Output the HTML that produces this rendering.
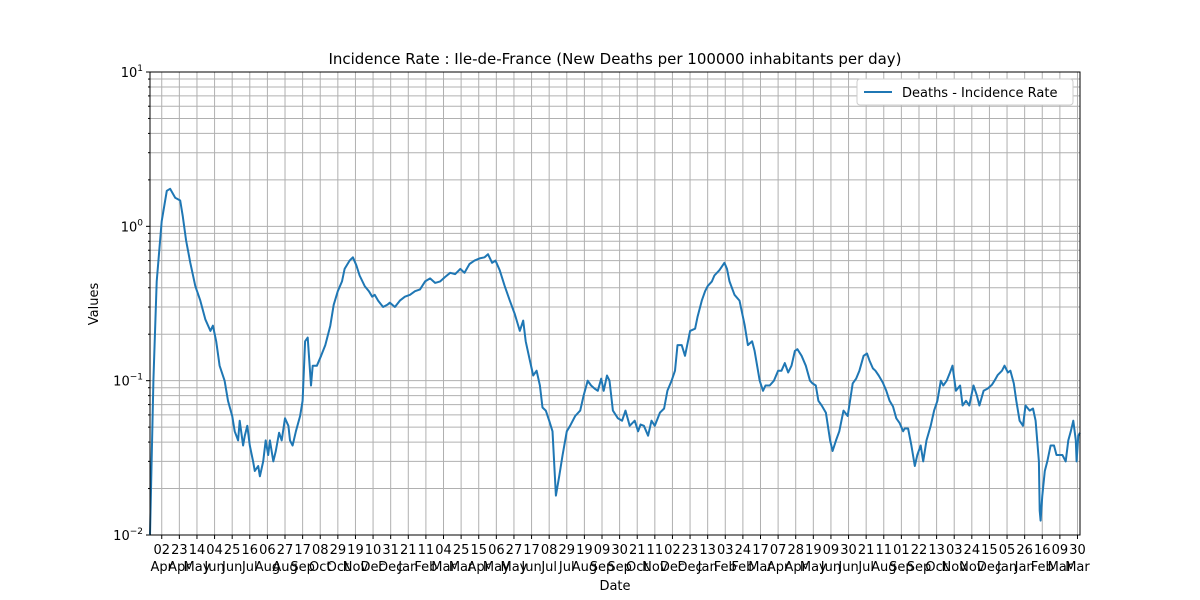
<!DOCTYPE html>
<html><head><meta charset="utf-8"><style>
body{margin:0;background:#fff;font-family:"Liberation Sans","DejaVu Sans",sans-serif}
svg{display:block}
</style></head><body>
<svg id="chart" width="1200" height="600" viewBox="0 0 1200 600" xmlns="http://www.w3.org/2000/svg" font-family="DejaVu Sans, Liberation Sans, sans-serif">
<rect width="1200" height="600" fill="#fff"/>
<text x="615" y="64" text-anchor="middle" font-size="15">Incidence Rate : Ile-de-France  (New Deaths per 100000 inhabitants per day)</text>
<g id="grid"></g>
<g id="ticks"></g>
<path id="line" fill="none" stroke="#1f77b4" stroke-width="2" stroke-linejoin="round"/>
<rect x="150" y="72" width="930" height="463" fill="none" stroke="#000" stroke-width="1"/>
<text x="615" y="590" text-anchor="middle" font-size="13">Date</text>
<text transform="translate(98,304) rotate(-90)" text-anchor="middle" font-size="13">Values</text>
<g>
<rect x="857" y="79" width="216" height="26" fill="#fff" stroke="#ccc" rx="3"/>
<line x1="864" y1="92" x2="892" y2="92" stroke="#1f77b4" stroke-width="2"/>
<text x="902" y="97" font-size="13">Deaths - Incidence Rate</text>
</g>
</svg>
<script>
const days=[0,4,8,14,20,24,30,36,39,43,48,54,60,66,72,75,79,83,89,93,98,101,105,107,111,113,116,119,123,125,129,131,135,138,141,143,147,150,154,157,161,165,167,170,174,179,182,185,188,192,194,199,204,209,215,219,224,229,232,238,242,246,250,256,261,265,268,272,278,283,286,292,298,304,310,316,322,328,334,340,346,352,358,364,370,375,381,387,393,399,403,408,412,417,423,429,435,441,445,448,453,457,461,465,468,472,476,480,484,488,492,497,501,507,513,517,522,526,530,534,538,541,545,548,552,558,563,567,572,578,582,585,589,594,598,602,608,613,617,622,626,629,634,638,644,650,653,658,662,665,670,673,679,685,688,691,697,703,709,713,718,721,727,731,734,739,744,749,753,757,761,765,769,772,777,782,787,790,794,797,801,806,811,814,818,822,827,832,838,842,846,851,855,858,862,865,869,874,878,882,886,890,894,898,900,904,908,912,915,919,922,926,931,935,939,943,946,950,954,957,961,966,969,973,977,982,986,989,994,999,1004,1007,1011,1016,1019,1023,1026,1030,1033,1037,1041,1044,1049,1053,1056,1060,1061,1062,1064,1067,1070,1074,1078,1081,1085,1088,1092,1095,1098,1101,1104,1105,1107,1109];
const values=[0.01,0.1,0.44,1.08,1.70,1.75,1.53,1.47,1.17,0.81,0.58,0.41,0.33,0.25,0.21,0.227,0.18,0.125,0.1,0.074,0.059,0.047,0.041,0.055,0.038,0.044,0.051,0.038,0.030,0.026,0.028,0.024,0.030,0.041,0.033,0.041,0.030,0.035,0.046,0.041,0.057,0.051,0.041,0.038,0.047,0.059,0.074,0.18,0.19,0.093,0.125,0.125,0.145,0.17,0.227,0.31,0.38,0.44,0.53,0.60,0.63,0.56,0.48,0.41,0.38,0.35,0.36,0.33,0.30,0.31,0.32,0.30,0.33,0.35,0.36,0.38,0.39,0.44,0.46,0.43,0.44,0.47,0.50,0.49,0.53,0.50,0.57,0.60,0.62,0.63,0.66,0.58,0.60,0.52,0.41,0.33,0.27,0.21,0.245,0.18,0.135,0.108,0.116,0.093,0.067,0.064,0.055,0.047,0.018,0.024,0.033,0.047,0.051,0.059,0.064,0.08,0.1,0.093,0.089,0.086,0.103,0.086,0.108,0.1,0.064,0.057,0.055,0.064,0.051,0.055,0.047,0.052,0.051,0.044,0.055,0.051,0.062,0.066,0.086,0.1,0.116,0.17,0.17,0.145,0.21,0.217,0.26,0.33,0.38,0.41,0.44,0.48,0.52,0.58,0.53,0.44,0.36,0.33,0.23,0.17,0.18,0.156,0.1,0.086,0.093,0.093,0.1,0.116,0.116,0.13,0.113,0.125,0.156,0.16,0.145,0.125,0.1,0.096,0.093,0.074,0.069,0.062,0.041,0.035,0.041,0.047,0.064,0.059,0.096,0.103,0.116,0.145,0.15,0.135,0.12,0.116,0.108,0.097,0.086,0.074,0.068,0.057,0.053,0.047,0.049,0.049,0.038,0.028,0.033,0.038,0.030,0.041,0.051,0.064,0.074,0.1,0.093,0.1,0.113,0.125,0.086,0.093,0.069,0.074,0.069,0.093,0.08,0.069,0.086,0.089,0.094,0.1,0.109,0.116,0.125,0.113,0.116,0.096,0.074,0.055,0.051,0.069,0.064,0.066,0.055,0.030,0.0144,0.0124,0.018,0.026,0.030,0.038,0.038,0.033,0.033,0.033,0.030,0.041,0.047,0.055,0.041,0.030,0.044,0.046];
const tickLabels=["02 Apr","23 Apr","14 May","04 Jun","25 Jun","16 Jul","06 Aug","27 Aug","17 Sep","08 Oct","29 Oct","19 Nov","10 Dec","31 Dec","21 Jan","11 Feb","04 Mar","25 Mar","15 Apr","06 May","27 May","17 Jun","08 Jul","29 Jul","19 Aug","09 Sep","30 Sep","21 Oct","11 Nov","02 Dec","23 Dec","13 Jan","03 Feb","24 Feb","17 Mar","07 Apr","28 Apr","19 May","09 Jun","30 Jun","21 Jul","11 Aug","01 Sep","22 Sep","13 Oct","03 Nov","24 Nov","15 Dec","05 Jan","26 Jan","16 Feb","09 Mar","30 Mar"];
const firstTickDay=14, tickStep=21;
const yDecades=[-2,-1,0,1];

const NS="http://www.w3.org/2000/svg";
const X0=150,X1=1080,Y0=535,Y1=72,DMAX=1109;
const xs=d=>X0+d*(X1-X0)/DMAX;
const ys=v=>Y0-(Math.log10(v)+2)*(Y0-Y1)/3;
function mk(tag,attrs,parent){const e=document.createElementNS(NS,tag);for(const k in attrs)e.setAttribute(k,attrs[k]);parent.appendChild(e);return e;}
const grid=document.getElementById('grid'),ticks=document.getElementById('ticks');
// y grid
for(let i=0;i<yDecades.length;i++){
  const p=yDecades[i];
  const y=ys(Math.pow(10,p));
  const gl=mk('line',{x1:X0,x2:X1,y1:y,y2:y,stroke:'#b0b0b0','stroke-width':1},grid);
  
  
  mk('line',{x1:X0-4,x2:X0,y1:y,y2:y,stroke:'#000'},ticks);
  const t=mk('text',{x:X0-7,y:y+5,'text-anchor':'end','font-size':13},ticks);
  
  
  t.textContent='10';
  const s=mk('tspan',{dy:-6,'font-size':9},t);s.textContent=p>=0?String(p):'\u2212'+(-p);
  if(i<yDecades.length-1){
    for(let m=2;m<=9;m++){
      const ym=ys(m*Math.pow(10,p));
      const ml=mk('line',{x1:X0,x2:X1,y1:ym,y2:ym,stroke:'#b0b0b0','stroke-width':1},grid);
      
      
      mk('line',{x1:X0-2,x2:X0,y1:ym,y2:ym,stroke:'#000'},ticks);
    }
  }
}
// x grid & labels
tickLabels.forEach((lab,i)=>{
  const x=xs(firstTickDay+i*tickStep);
  const gl=mk('line',{x1:x,x2:x,y1:Y1,y2:Y0,stroke:'#b0b0b0','stroke-width':1},grid);
  
  
  mk('line',{x1:x,x2:x,y1:Y0,y2:Y0+4,stroke:'#000'},ticks);
  const parts=lab.split(' ');
  const t=mk('text',{x:x,y:Y0+19,'text-anchor':'middle','font-size':13},ticks);
  
  
  t.textContent=parts[0];
  const t2=mk('text',{x:x,y:Y0+36,'text-anchor':'middle','font-size':13},ticks);
  
  
  t2.textContent=parts[1];
});
let d='';
days.forEach((dd,i)=>{d+=(i?'L':'M')+xs(dd).toFixed(1)+','+ys(values[i]).toFixed(1);});
document.getElementById('line').setAttribute('d',d);
</script>
</body></html>
